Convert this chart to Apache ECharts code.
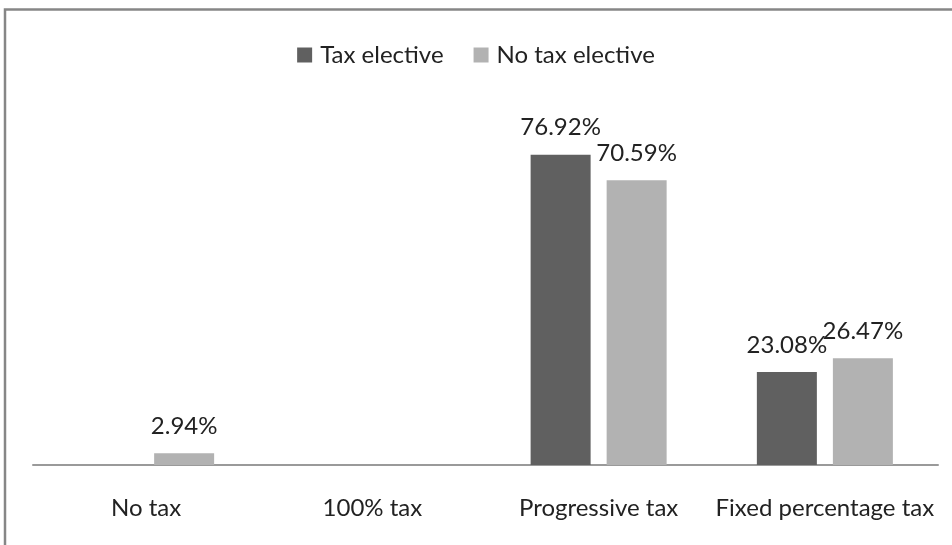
<!DOCTYPE html>
<html>
<head>
<meta charset="utf-8">
<script src="https://cdn.jsdelivr.net/npm/echarts@6/dist/echarts.min.js"></script>
<style>
html,body{margin:0;padding:0;background:#fff;}
#chart{width:952px;height:545px;}
</style>
</head>
<body>
<div id="chart"></div>
<script>
const categories = ['No tax', '100% tax', 'Progressive tax', 'Fixed percentage tax'];
const seriesNames = ['Tax elective', 'No tax elective'];
const taxElective = [null, null, 76.92, 23.08];
const noTaxElective = [2.94, null, 70.59, 26.47];

const FONT = 'Lato';
const chart = echarts.init(document.getElementById('chart'));
const labelCfg = {
  show: true,
  position: 'top',
  distance: 15,
  fontFamily: FONT,
  fontSize: 24,
  lineHeight: 24,
  color: '#222',
  formatter: p => p.value == null ? '' : p.value.toFixed(2) + '%'
};
chart.setOption({
  animation: false,
  backgroundColor: '#fff',
  graphic: [{
    type: 'rect',
    shape: {x: 5, y: 9.5, width: 1000, height: 600},
    style: {fill: 'none', stroke: '#868686', lineWidth: 2.5},
    silent: true
  }],
  legend: {
    top: 38,
    left: 'center',
    itemWidth: 15,
    itemHeight: 15,
    itemGap: 30,
    icon: 'rect',
    textStyle: {fontFamily: FONT, fontSize: 24, lineHeight: 24, color: '#222', padding: [0, 0, 0, 3]},
    data: seriesNames
  },
  grid: {left: 33, right: 14, top: 102, bottom: 80, containLabel: false, outerBoundsMode: 'none'},
  xAxis: {
    type: 'category',
    data: categories,
    axisLine: {lineStyle: {color: '#9a9a9a', width: 2}},
    axisTick: {show: false},
    axisLabel: {fontFamily: FONT, fontSize: 24, lineHeight: 24, color: '#222', margin: 31, interval: 0}
  },
  yAxis: {type: 'value', min: 0, max: 90, show: false, splitLine: {show: false}},
  series: [
    {name: seriesNames[0], type: 'bar', data: taxElective, barWidth: 60, barGap: '26.7%',
     itemStyle: {color: '#606060'}, label: labelCfg},
    {name: seriesNames[1], type: 'bar', data: noTaxElective, barWidth: 60,
     itemStyle: {color: '#b2b2b2'}, label: labelCfg}
  ]
});
</script>
</body>
</html>
